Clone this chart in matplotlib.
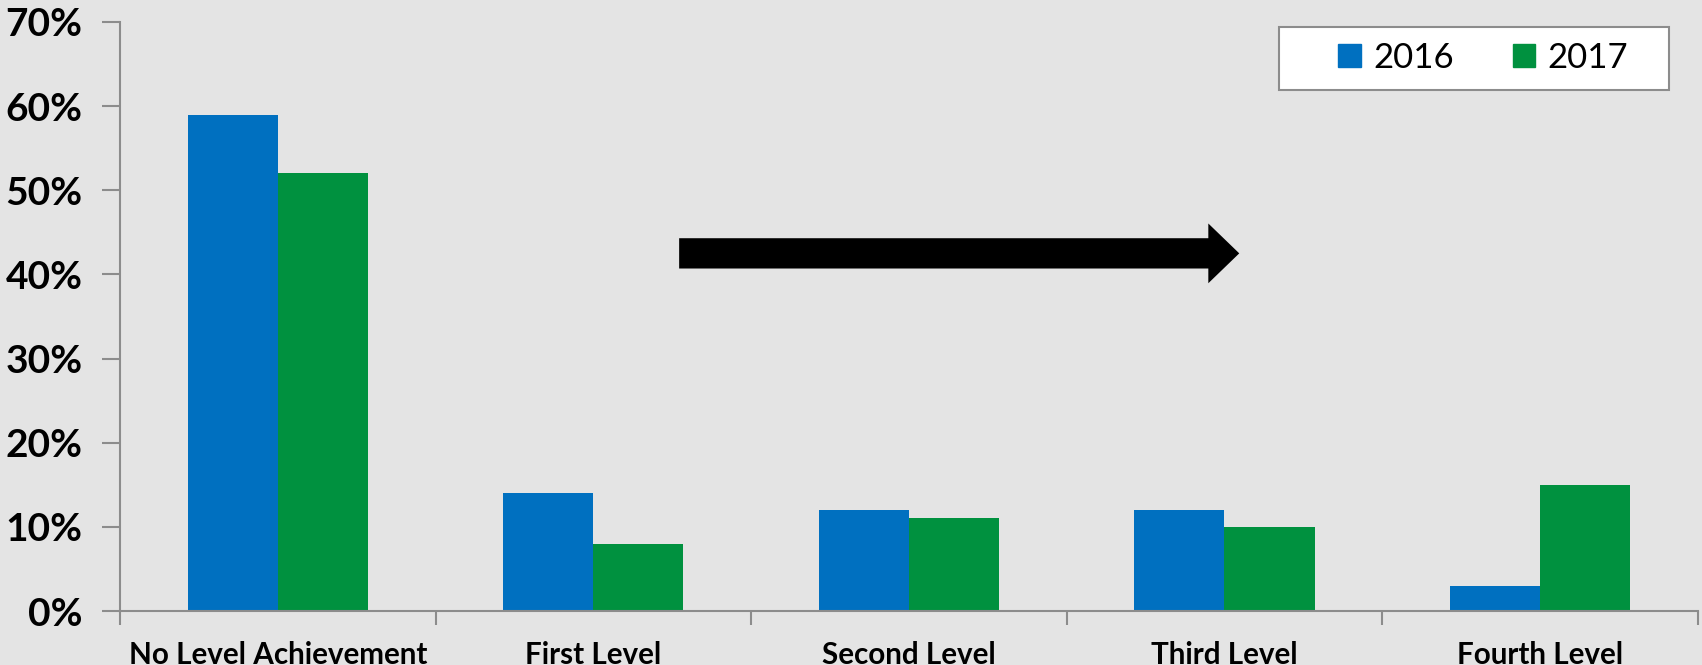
import numpy as np
import matplotlib.pyplot as plt
from matplotlib.patches import FancyArrow, Patch, Rectangle

plt.rcParams['font.family'] = ['Lato', 'DejaVu Sans']

categories = ['No Level Achievement', 'First Level', 'Second Level', 'Third Level', 'Fourth Level']
years = ['2016', '2017']
share_2016 = [59, 14, 12, 12, 3]
share_2017 = [52, 8, 11, 10, 15]
y_ticks = [0, 10, 20, 30, 40, 50, 60, 70]

blue = '#0070C0'
green = '#00913F'
bg = '#E4E4E4'
axis_grey = '#8C8C8C'

fig = plt.figure(figsize=(17.02, 6.65), dpi=100, facecolor=bg)
ax = fig.add_axes([0.0705, 0.0812, 0.927, 0.8858], facecolor=bg)

x = np.arange(len(categories))
w = 0.2857
ax.bar(x - w / 2, share_2016, w, color=blue, linewidth=0)
ax.bar(x + w / 2, share_2017, w, color=green, linewidth=0)

ax.set_xlim(-0.5, len(categories) - 0.5)
ax.set_ylim(0, 70)

# y axis: bold percent labels
ax.set_yticks(y_ticks)
ax.set_yticklabels([f'{t}%' for t in y_ticks], fontsize=28, fontweight='bold')
ax.tick_params(axis='y', length=13, width=1.5, color=axis_grey, pad=14)

# x axis: labels at centres, tick marks between categories
ax.set_xticks(x)
ax.set_xticklabels(categories, fontsize=21.3, fontweight='bold')
ax.set_xticks(np.arange(-0.5, len(categories)), minor=True)
ax.tick_params(axis='x', which='major', length=0, pad=21.5)
ax.tick_params(axis='x', which='minor', length=10, width=1.5, color=axis_grey)

for side in ['top', 'right']:
    ax.spines[side].set_visible(False)
for side in ['left', 'bottom']:
    ax.spines[side].set_color(axis_grey)
    ax.spines[side].set_linewidth(1.5)

# trend arrow
ax.add_patch(FancyArrow(1.272, 42.5, 1.775 - 0.098, 0, width=3.6, head_width=7.1,
                        head_length=0.098, length_includes_head=False,
                        color='black', linewidth=0))

# legend box drawn separately so its padding can be uneven
ax.add_patch(Rectangle((0.7345, 0.8846), 0.2471, 0.1069, transform=ax.transAxes,
                       facecolor='white', edgecolor=axis_grey, linewidth=1.5,
                       clip_on=False, zorder=4))
handles = [Patch(color=blue), Patch(color=green)]
leg = ax.legend(handles, years, loc='center left', bbox_to_anchor=(0.7719, 0.939),
                ncol=2, fontsize=25, frameon=False, borderaxespad=0, borderpad=0,
                handlelength=0.66, handleheight=0.66, handletextpad=0.35,
                columnspacing=1.7)
leg.set_zorder(5)

fig.savefig('out.png', dpi=100, facecolor=bg)
